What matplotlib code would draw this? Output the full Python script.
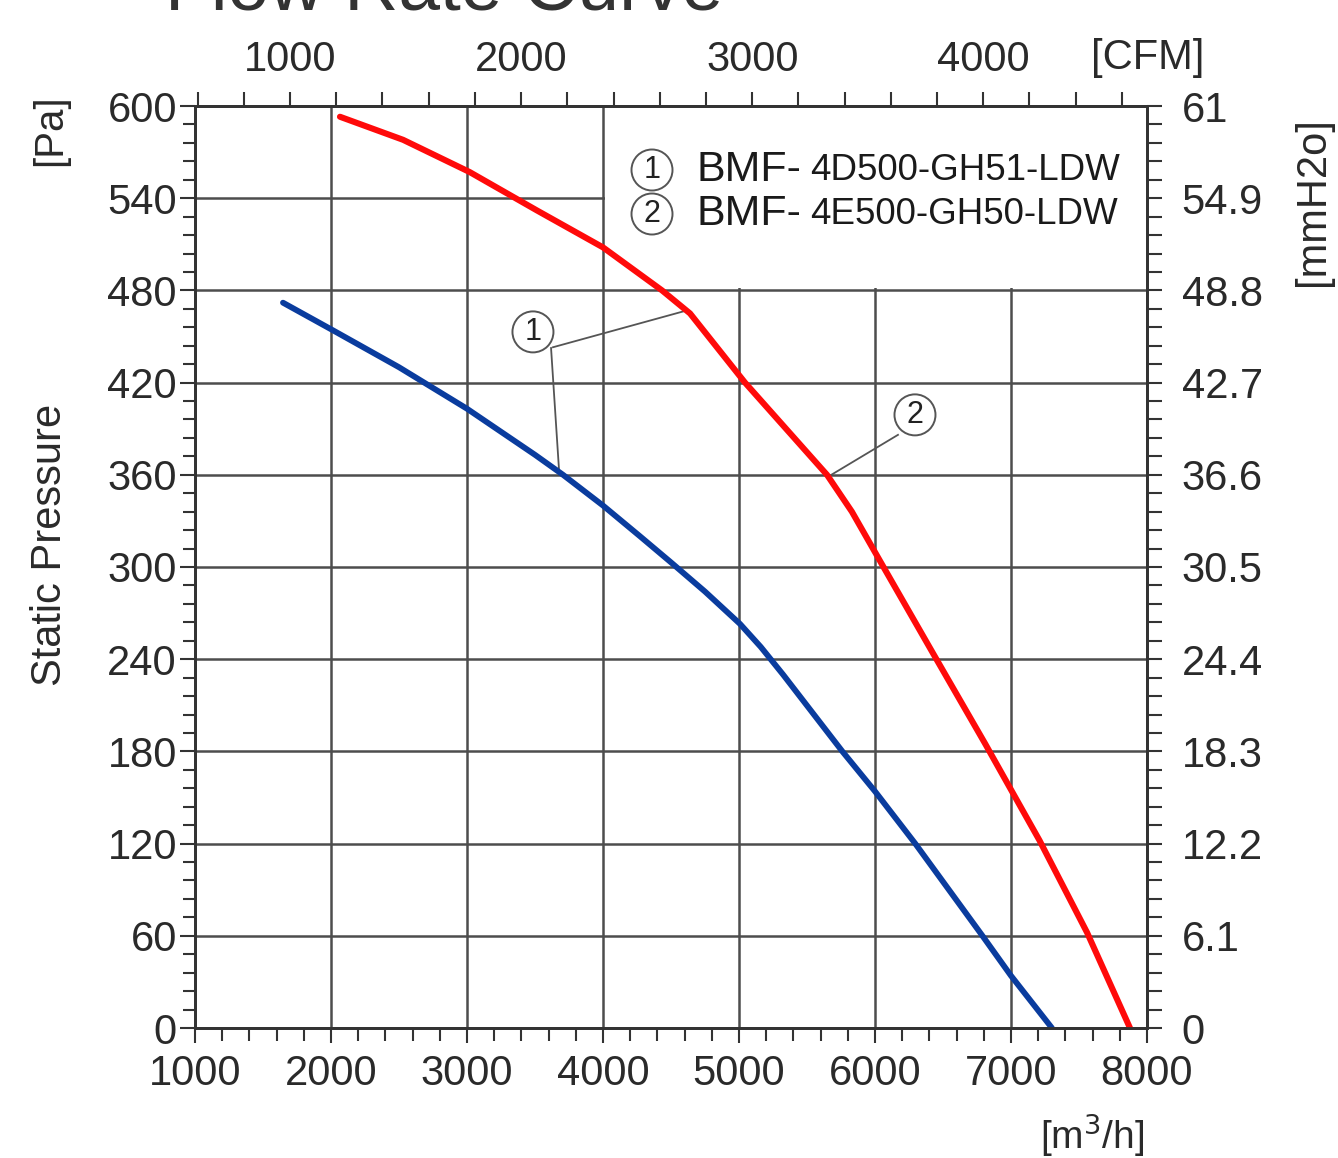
import matplotlib
matplotlib.use('Agg')
import matplotlib.pyplot as plt
from matplotlib.patches import Rectangle
from matplotlib.ticker import MultipleLocator

# ---------------- data ----------------
red_x = [2066, 2530, 3020, 3515, 4000, 4434, 4640, 5044, 5647, 5830, 6030, 6419, 6810, 7210, 7560, 7875]
red_y = [593, 578, 557, 532, 508, 480, 465, 420, 360, 336, 305, 245, 185, 122, 62, 0]

blue_x = [1647, 2015, 2500, 3000, 3500, 3706, 4000, 4272, 4500, 4750, 5007, 5160, 5324, 5760, 6000, 6296, 6790, 7000, 7301]
blue_y = [472, 454, 430, 403, 373, 360, 340, 320, 303, 284, 263, 248, 230, 180, 154, 120, 60, 34, 0]

x_ticks = [1000, 2000, 3000, 4000, 5000, 6000, 7000, 8000]
y_ticks = [0, 60, 120, 180, 240, 300, 360, 420, 480, 540, 600]
mm_labels = ['0', '6.1', '12.2', '18.3', '24.4', '30.5', '36.6', '42.7', '48.8', '54.9', '61']
cfm_ticks = [1000, 2000, 3000, 4000]
legend_models = ['4D500-GH51-LDW', '4E500-GH50-LDW']
legend_nums = ['1', '2']

# leader lines for the callouts (label position, line ends)
callout1_pos = (3485, 453)
callout1_lines = [((3632, 443), (4618, 467)), ((3618, 442.5), (3676, 364))]
callout2_pos = (6294, 399)
callout2_lines = [((6169, 386), (5660, 359))]

CFM_FACTOR = 1.699

plt.rcParams['font.family'] = ['Liberation Sans', 'DejaVu Sans']

W, H = 1338, 1158
fig = plt.figure(figsize=(W / 100, H / 100), dpi=100)
fig.patch.set_facecolor('white')

def fx(px):
    return px / W

def fy(py):
    return 1 - py / H

ax = fig.add_axes([fx(195), fy(1028), (1147 - 195) / W, (1028 - 106) / H])
ax.set_xlim(1000, 8000)
ax.set_ylim(0, 600)
ax.set_xticks(x_ticks)
ax.set_yticks(y_ticks)
ax.xaxis.set_minor_locator(MultipleLocator(200))
ax.yaxis.set_minor_locator(MultipleLocator(12))
ax.set_axisbelow(True)
ax.grid(True, which='major', color='#4d4d4d', lw=1.8)

tick_col = '#333333'
lab_col = '#2a2a2a'
ax.tick_params(which='both', direction='out', width=1.5, color=tick_col,
               labelsize=30, labelcolor=lab_col)
ax.tick_params(which='major', length=11)
ax.tick_params(which='minor', length=9)
ax.tick_params(axis='x', pad=8)
ax.tick_params(axis='y', pad=2)
for s in ax.spines.values():
    s.set_color(tick_col)
    s.set_linewidth(2)

# white box behind legend
ax.add_patch(Rectangle((4012, 481.5), 8000 - 4012, 600 - 481.5,
                       facecolor='white', edgecolor='none', zorder=1))

ax.plot(blue_x, blue_y, color='#0a3c9e', lw=4.2, solid_capstyle='round',
        solid_joinstyle='round', zorder=3)
ax.plot(red_x, red_y, color='#ff0a0a', lw=4.4, solid_capstyle='round',
        solid_joinstyle='round', zorder=3)

# callouts
for (a, b) in callout1_lines + callout2_lines:
    ax.plot([a[0], b[0]], [a[1], b[1]], color='#555555', lw=1.3, zorder=2.5)
for pos, n in [(callout1_pos, '1'), (callout2_pos, '2')]:
    ax.text(pos[0], pos[1], n, fontsize=22, ha='center', va='center', color='#222222',
            bbox=dict(boxstyle='circle,pad=0.18', fc='white', ec='#555555', lw=1.4), zorder=4)

# right axis (mmH2O)
ax2 = ax.twinx()
ax2.set_ylim(0, 600)
ax2.set_yticks(y_ticks)
ax2.set_yticklabels(mm_labels)
ax2.yaxis.set_minor_locator(MultipleLocator(12))
ax2.tick_params(which='both', direction='out', length=11, width=1.5, color=tick_col,
                labelsize=30, labelcolor=lab_col, pad=14)
for s in ax2.spines.values():
    s.set_color(tick_col)
    s.set_linewidth(2)

# top axis (CFM)
sec = ax.secondary_xaxis('top', functions=(lambda v: v / CFM_FACTOR, lambda c: c * CFM_FACTOR))
sec.set_xticks(cfm_ticks)
sec.xaxis.set_minor_locator(MultipleLocator(200))
sec.tick_params(which='both', direction='out', length=10, width=1.5, color=tick_col,
                labelsize=30, labelcolor=lab_col, pad=9)
sec.spines['top'].set_color(tick_col)
sec.spines['top'].set_linewidth(2)

# legend text
for i, (num, model) in enumerate(zip(legend_nums, legend_models)):
    yy = fy(170 + 44 * i)
    fig.text(fx(652), yy, num, fontsize=22, ha='center', va='center', color='#222222',
             bbox=dict(boxstyle='circle,pad=0.18', fc='white', ec='#555555', lw=1.4))
    fig.text(fx(697), yy, 'BMF-', fontsize=31, ha='left', va='center', color='#1a1a1a')
    fig.text(fx(810), yy, model, fontsize=26.5, ha='left', va='center', color='#1a1a1a')

# axis labels
fig.text(fx(50), fy(130), '[Pa]', fontsize=29, rotation=90, ha='center', va='center', color=lab_col)
fig.text(fx(50), fy(545), 'Static Pressure', fontsize=30, rotation=90, ha='center', va='center', color=lab_col)
fig.text(fx(1313), fy(202), '[mmH2o]', fontsize=30, rotation=90, ha='center', va='center', color=lab_col)
fig.text(fx(1148), fy(58), '[CFM]', fontsize=30, ha='center', va='center', color=lab_col)
fig.text(fx(1092), fy(1135), '[m$^3$/h]', fontsize=28, ha='center', va='center', color=lab_col)

# title, cut off by the top edge as in the reference
fig.text(fx(165), fy(9), 'Flow Rate Curve', fontsize=54, ha='left', va='baseline', color='#333333')

fig.savefig('out.png', dpi=100, facecolor='white')
